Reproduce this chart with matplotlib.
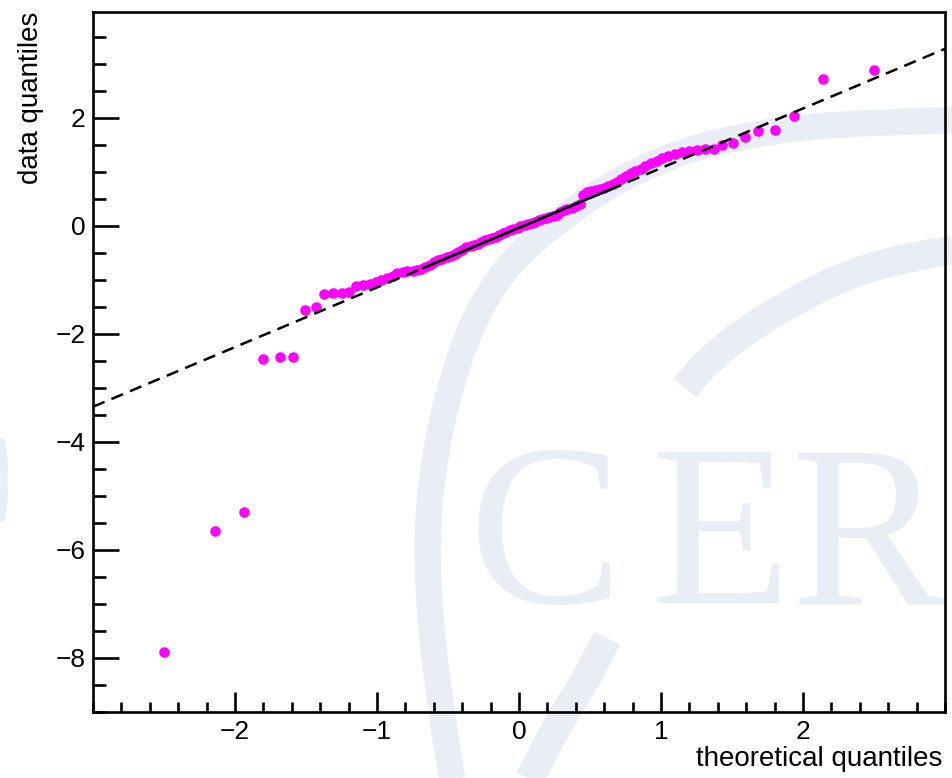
import numpy as np
import matplotlib

matplotlib.use("Agg")
import matplotlib.pyplot as plt
from matplotlib.ticker import MultipleLocator, FixedLocator

plt.rcParams["font.family"] = ["Liberation Sans", "DejaVu Sans"]

# theoretical normal quantiles (x) and sorted sample values (y)
theo_q = [
    -2.50, -2.14, -1.94, -1.80, -1.68, -1.59, -1.51, -1.43, -1.37, -1.31,
    -1.25, -1.20, -1.15, -1.10, -1.05, -1.01, -0.97, -0.93, -0.89, -0.86,
    -0.82, -0.79, -0.75, -0.72, -0.69, -0.66, -0.63, -0.60, -0.57, -0.54,
    -0.51, -0.48, -0.45, -0.43, -0.40, -0.37, -0.34, -0.32, -0.29, -0.27,
    -0.24, -0.21, -0.19, -0.16, -0.14, -0.11, -0.09, -0.06, -0.04, -0.01,
    0.01, 0.04, 0.06, 0.09, 0.11, 0.14, 0.16, 0.19, 0.21, 0.24,
    0.27, 0.29, 0.32, 0.34, 0.37, 0.40, 0.43, 0.45, 0.48, 0.51,
    0.54, 0.57, 0.60, 0.63, 0.66, 0.69, 0.72, 0.75, 0.79, 0.82,
    0.86, 0.89, 0.93, 0.97, 1.01, 1.05, 1.10, 1.15, 1.20, 1.25,
    1.31, 1.37, 1.43, 1.51, 1.59, 1.68, 1.80, 1.94, 2.14, 2.50,
]
data_q = [
    -7.88, -5.65, -5.30, -2.46, -2.43, -2.42, -1.56, -1.50, -1.26, -1.25,
    -1.24, -1.22, -1.12, -1.10, -1.07, -1.03, -1.00, -0.97, -0.92, -0.88,
    -0.85, -0.84, -0.83, -0.81, -0.79, -0.76, -0.72, -0.67, -0.64, -0.61,
    -0.58, -0.55, -0.52, -0.48, -0.44, -0.40, -0.37, -0.35, -0.33, -0.30,
    -0.27, -0.25, -0.22, -0.20, -0.17, -0.14, -0.11, -0.08, -0.05, -0.03,
    0.00, 0.02, 0.04, 0.06, 0.08, 0.11, 0.13, 0.15, 0.17, 0.19,
    0.21, 0.26, 0.29, 0.31, 0.34, 0.37, 0.40, 0.58, 0.62, 0.64,
    0.66, 0.69, 0.71, 0.74, 0.77, 0.81, 0.86, 0.93, 0.98, 1.02,
    1.06, 1.11, 1.16, 1.21, 1.26, 1.30, 1.33, 1.36, 1.38, 1.40,
    1.42, 1.43, 1.50, 1.54, 1.65, 1.76, 1.77, 2.04, 2.72, 2.89,
]

# reference line through the first and third quartiles
theo_quartiles = [-0.6745, 0.6745]
data_quartiles = [-0.78, 0.71]

x_ticks = [-2, -1, 0, 1, 2]

WATERMARK = "#e9edf5"


def smooth(pts, n=24):
    """Catmull-Rom curve through a list of pixel points."""
    p = np.array(pts, float)
    p = np.vstack([p[0], p, p[-1]])
    out = []
    t = np.linspace(0, 1, n, endpoint=False)[:, None]
    for i in range(1, len(p) - 2):
        p0, p1, p2, p3 = p[i - 1], p[i], p[i + 1], p[i + 2]
        out.append(0.5 * (2 * p1 + (-p0 + p2) * t
                          + (2 * p0 - 5 * p1 + 4 * p2 - p3) * t ** 2
                          + (-p0 + 3 * p1 - 3 * p2 + p3) * t ** 3))
    out.append(p[-2][None])
    return np.vstack(out)


fig = plt.figure(figsize=(9.52, 7.78), dpi=100)

# --- faint logo in the background (pixel coordinates) ---
bg = fig.add_axes([0, 0, 1, 1], zorder=0)
bg.set_xlim(0, 952)
bg.set_ylim(778, 0)
bg.axis("off")
outer = smooth([(1010, 115), (952, 120), (850, 124), (770, 132), (690, 150),
                (620, 180), (560, 220), (510, 265), (475, 320), (450, 390),
                (435, 460), (428, 530), (430, 610), (440, 700), (452, 778),
                (456, 800)])
bg.plot(outer[:, 0], outer[:, 1], color=WATERMARK, lw=19, solid_capstyle="butt")
inner = smooth([(1010, 243), (952, 250), (880, 265), (822, 287), (752, 327),
                (708, 362), (685, 388)])
bg.plot(inner[:, 0], inner[:, 1], color=WATERMARK, lw=21, solid_capstyle="butt")
lower = smooth([(607, 638), (585, 680), (558, 725), (530, 778), (522, 795)])
bg.plot(lower[:, 0], lower[:, 1], color=WATERMARK, lw=21, solid_capstyle="butt")
left = smooth([(-30, 400), (-2, 437), (3, 480), (-2, 523), (-30, 560)])
bg.plot(left[:, 0], left[:, 1], color=WATERMARK, lw=7, solid_capstyle="butt")
for letter, xpix in zip("CER", [468, 650, 790]):
    bg.text(xpix, 603, letter, fontsize=166, color=WATERMARK, ha="left",
            va="baseline", family=["Liberation Serif", "DejaVu Serif"])

# --- QQ plot ---
ax = fig.add_axes([93 / 952, 66 / 778, 852 / 952, 700 / 778], zorder=1)
ax.set_facecolor("none")

ax.plot(theo_q, data_q, "o", color="#ff00ff", ms=7.6, mew=0, zorder=2)

slope = (data_quartiles[1] - data_quartiles[0]) / (theo_quartiles[1] - theo_quartiles[0])
icpt = data_quartiles[0] - slope * theo_quartiles[0]
xl = np.array([-3.0, 3.0])
ax.plot(xl, slope * xl + icpt, color="black", lw=1.8, ls=(0, (5, 3)), zorder=3)
ax.plot(theo_quartiles, data_quartiles, color="black", lw=1.9, zorder=3)

ax.set_xlim(-3, 3)
ax.set_ylim(-9, 3.96)
ax.xaxis.set_major_locator(FixedLocator(x_ticks))
ax.xaxis.set_minor_locator(MultipleLocator(0.2))
ax.yaxis.set_major_locator(MultipleLocator(2))
ax.yaxis.set_minor_locator(MultipleLocator(0.5))

for s in ax.spines.values():
    s.set_linewidth(1.9)
ax.tick_params(which="both", direction="in", top=False, right=False,
               width=1.9, labelsize=19)
ax.tick_params(axis="x", which="major", length=14.5, pad=6)
ax.tick_params(axis="x", which="minor", length=7.2)
ax.tick_params(axis="y", which="major", length=18.7, pad=5.5)
ax.tick_params(axis="y", which="minor", length=9.4)

ax.set_xlabel("theoretical quantiles", fontsize=20, loc="right")
ax.xaxis.set_label_coords(0.9965, -0.049)
ax.set_ylabel("data quantiles", fontsize=20, loc="top")
ax.yaxis.set_label_coords(-0.058, 1.0)

fig.savefig("out.png", dpi=100)
